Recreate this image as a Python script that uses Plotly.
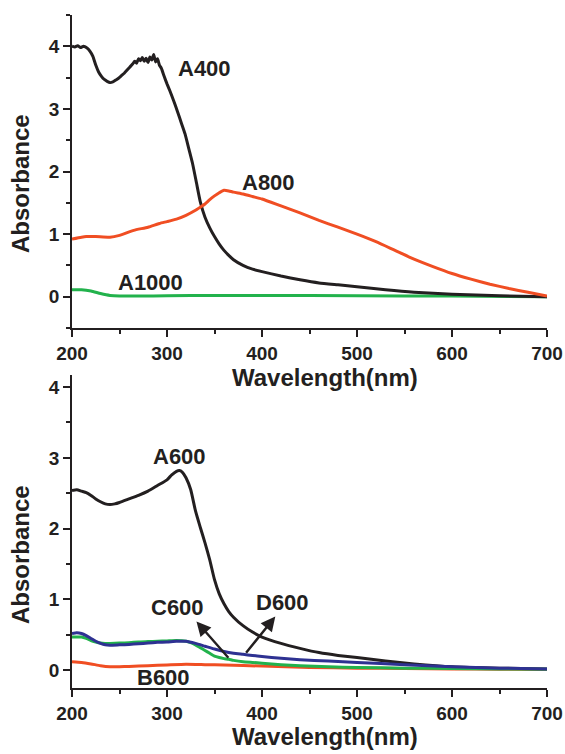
import plotly.graph_objects as go

# ---------------- data (top panel) ----------------
a400_x = [200,203,206,209,212,214,216,219,222,225,228,231,234,237,240,243,246,249,252,255,
          258,261,264,266,268,270,272,274,276,278,280,282,284,286,288,290,292,294,297,300,
          303,307,311,315,319,323,327,331,335,340,345,350,355,360,365,370,380,390,400,420,
          440,460,480,500,530,560,600,650,700]
a400_y = [4.00,3.99,4.01,3.98,4.00,3.99,3.97,3.92,3.84,3.70,3.59,3.52,3.47,3.44,3.42,3.43,3.46,3.49,3.53,3.57,
          3.62,3.67,3.72,3.76,3.73,3.80,3.77,3.82,3.76,3.81,3.74,3.83,3.78,3.87,3.75,3.80,3.70,3.65,3.52,3.40,
          3.29,3.13,2.96,2.78,2.60,2.36,2.12,1.82,1.52,1.27,1.10,0.96,0.84,0.74,0.66,0.59,0.50,0.44,0.40,0.33,
          0.27,0.22,0.19,0.16,0.11,0.07,0.04,0.015,0.0]

a800_x = [200,210,215,225,240,250,265,280,292,300,310,320,330,335,340,345,350,355,360,365,
          370,380,390,400,420,440,460,480,500,520,540,560,580,600,620,640,660,680,700]
a800_y = [0.92,0.95,0.96,0.96,0.95,0.98,1.06,1.11,1.17,1.20,1.24,1.30,1.38,1.43,1.48,1.55,1.61,1.66,1.70,1.69,
          1.67,1.64,1.60,1.56,1.45,1.34,1.22,1.11,1.00,0.88,0.74,0.60,0.48,0.37,0.28,0.20,0.13,0.07,0.01]

a1000_x = [200,210,220,230,240,250,270,300,350,400,500,600,700]
a1000_y = [0.11,0.11,0.09,0.05,0.02,0.01,0.01,0.015,0.02,0.02,0.015,0.01,0.0]

# ---------------- data (bottom panel) ----------------
a600_x = [200,205,210,215,220,225,230,235,240,245,250,260,270,280,290,300,305,310,313,316,
          320,325,330,335,340,345,350,355,360,365,370,380,390,400,420,440,460,480,500,530,
          560,600,650,700]
a600_y = [2.54,2.55,2.53,2.51,2.47,2.42,2.38,2.35,2.34,2.35,2.37,2.42,2.47,2.53,2.61,2.69,2.76,2.81,2.82,2.80,
          2.72,2.55,2.25,2.02,1.80,1.56,1.28,1.08,0.94,0.83,0.75,0.63,0.54,0.47,0.38,0.31,0.25,0.21,0.18,0.13,
          0.09,0.05,0.03,0.02]

d600_x = [200,205,210,215,220,225,230,235,240,250,260,270,280,290,300,310,320,330,340,350,
          360,370,380,390,400,420,440,470,500,550,600,650,700]
d600_y = [0.52,0.53,0.52,0.49,0.45,0.41,0.38,0.36,0.355,0.36,0.365,0.375,0.385,0.395,0.40,0.41,0.41,0.38,0.34,0.30,
          0.265,0.24,0.225,0.21,0.195,0.17,0.15,0.13,0.11,0.08,0.05,0.03,0.02]

c600_x = [200,205,210,215,220,225,230,235,240,250,260,270,280,290,300,310,320,325,330,335,
          340,345,350,355,360,365,370,380,390,400,420,440,470,500,550,600,650,700]
c600_y = [0.47,0.47,0.47,0.45,0.42,0.40,0.385,0.38,0.38,0.385,0.39,0.40,0.405,0.41,0.415,0.42,0.41,0.39,0.36,0.32,
          0.28,0.24,0.20,0.18,0.165,0.155,0.14,0.12,0.11,0.10,0.08,0.065,0.05,0.04,0.03,0.025,0.02,0.015]

b600_x = [200,210,220,230,240,250,260,280,300,320,340,360,400,450,500,550,600,650,700]
b600_y = [0.12,0.11,0.09,0.065,0.05,0.05,0.055,0.065,0.075,0.085,0.08,0.075,0.06,0.04,0.03,0.025,0.02,0.015,0.01]

x_ticks = [200, 300, 400, 500, 600, 700]
y_ticks = [0, 1, 2, 3, 4]

for xs, ys in [(a400_x, a400_y), (a800_x, a800_y), (a1000_x, a1000_y), (a600_x, a600_y),
               (d600_x, d600_y), (c600_x, c600_y), (b600_x, b600_y)]:
    assert len(xs) == len(ys), (len(xs), len(ys))

BLACK = "#231F20"
ORANGE = "#F04E23"
GREEN = "#22B24C"
BLUE = "#2E3192"
FONT = "Liberation Sans"
LW = 3.0

fig = go.Figure()

def add(xs, ys, color, xa, ya):
    fig.add_trace(go.Scatter(x=xs, y=ys, mode="lines", xaxis=xa, yaxis=ya,
                             line=dict(color=color, width=LW, shape="spline", smoothing=0.5),
                             showlegend=False, hoverinfo="skip"))

add(a1000_x, a1000_y, GREEN, "x", "y")
add(a400_x, a400_y, BLACK, "x", "y")
add(a800_x, a800_y, ORANGE, "x", "y")

add(a600_x, a600_y, BLACK, "x2", "y2")
add(b600_x, b600_y, ORANGE, "x2", "y2")
add(c600_x, c600_y, GREEN, "x2", "y2")
add(d600_x, d600_y, BLUE, "x2", "y2")

W, H = 565, 754
L, R, T, B = 72, 18, 15, 66
ph = H - T - B
pw = W - L - R

def py(pix):   # screen y pixel -> paper y
    return (H - B - pix) / ph

def px(pix):   # screen x pixel -> paper x
    return (pix - L) / pw

axis_common = dict(showgrid=False, zeroline=False, showline=True, linecolor=BLACK, linewidth=1.8,
                   ticks="outside", ticklen=7, tickwidth=1.8, tickcolor=BLACK, automargin=False,
                   tickfont=dict(family=FONT, size=19, color=BLACK, weight="bold"))

fig.update_layout(
    width=W, height=H,
    margin=dict(l=L, r=R, t=T, b=B, autoexpand=False),
    paper_bgcolor="white", plot_bgcolor="white",
    xaxis=dict(axis_common, range=[200, 700], tickvals=x_ticks, anchor="y",
               minor=dict(ticks="outside", ticklen=4, tickwidth=1.5, tickcolor=BLACK, dtick=50)),
    yaxis=dict(axis_common, range=[-0.5, 4.5], tickvals=y_ticks, anchor="x",
               domain=[py(328), 1.0],
               minor=dict(ticks="outside", ticklen=4, tickwidth=1.5, tickcolor=BLACK, dtick=0.5, tick0=0)),
    xaxis2=dict(axis_common, range=[200, 700], tickvals=x_ticks, anchor="y2",
                minor=dict(ticks="outside", ticklen=4, tickwidth=1.5, tickcolor=BLACK, dtick=50)),
    yaxis2=dict(axis_common, range=[-0.25, 4.17], tickvals=y_ticks, anchor="x2",
                domain=[0.0, py(375)],
                minor=dict(ticks="outside", ticklen=4, tickwidth=1.5, tickcolor=BLACK, dtick=0.5, tick0=0)),
)

title_font = dict(family=FONT, size=24, color=BLACK, weight="bold")
label_font = dict(family=FONT, size=22, color=BLACK, weight="bold")

# axis titles
for xa_y, ya_y in [(py(377), py(184)), (py(736), py(555))]:
    fig.add_annotation(text="Wavelength(nm)", xref="paper", yref="paper", x=px(325), y=xa_y,
                       xanchor="center", yanchor="middle", showarrow=False, font=title_font)
    fig.add_annotation(text="Absorbance", xref="paper", yref="paper", x=px(20), y=ya_y,
                       xanchor="center", yanchor="middle", showarrow=False, textangle=-90, font=title_font)

# curve labels, top
for txt, x, y in [("A400", 339, 3.65), ("A800", 407, 1.83), ("A1000", 283, 0.22)]:
    fig.add_annotation(text=txt, x=x, y=y, xref="x", yref="y", showarrow=False, font=label_font)

# curve labels, bottom
for txt, x, y in [("A600", 313, 3.02), ("C600", 311, 0.89), ("D600", 422, 0.96), ("B600", 296, -0.10)]:
    fig.add_annotation(text=txt, x=x, y=y, xref="x2", yref="y2", showarrow=False, font=label_font)

# arrows
for hx, hy, tx, ty in [(331, 0.69, 366, 0.155), (414, 0.76, 382, 0.225)]:
    fig.add_annotation(x=hx, y=hy, ax=tx, ay=ty, xref="x2", yref="y2", axref="x2", ayref="y2",
                       text="", showarrow=True, arrowhead=2, arrowsize=1.2, arrowwidth=2.4,
                       arrowcolor=BLACK)

# remove the default page margin so the figure fills the window exactly
fig.write_html("out.html",
               config={"displayModeBar": False},
               post_script="document.body.style.margin='0';document.body.style.overflow='hidden';")
